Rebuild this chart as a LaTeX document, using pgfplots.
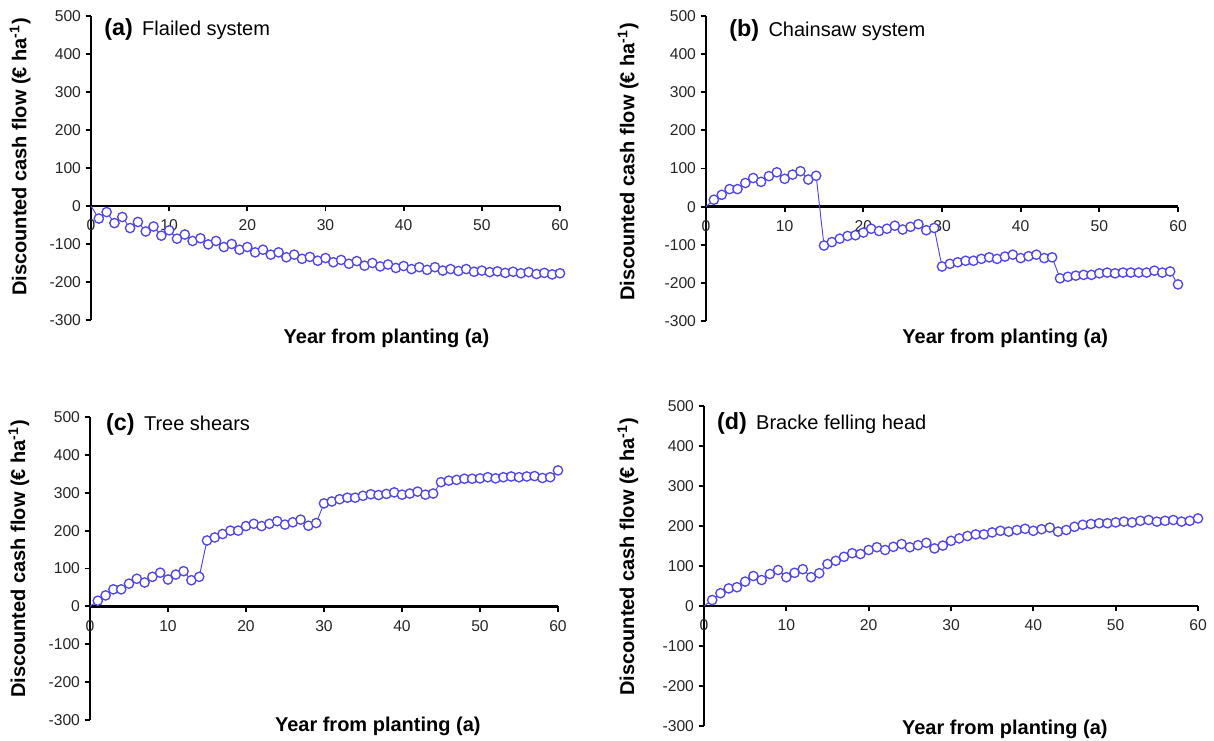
\documentclass[border=0pt]{standalone}
\usepackage{pgfplots}
\pgfplotsset{compat=1.18}
\usepackage{fontspec}
\setmainfont{Liberation Sans}
\definecolor{ser}{RGB}{80,70,230}
\pgfplotsset{
 myax/.style={scale only axis, xmin=0, xmax=60, ymin=-300, ymax=500,
  axis y line=left, axis x line=middle,
  axis line style={-, line width=1.8pt, black},
  xtick={0,10,...,60}, ytick={-300,-200,...,500},
  tick align=outside, major tick length=4pt,
  tick style={line width=1.4pt, black},
  tick label style={font=\fontsize{11.75}{12}\selectfont, text=black!85},
  xticklabel style={yshift=-3pt},
  /pgf/number format/assume math mode=true,
  hide obscured x ticks=false,
  xlabel={\bfseries Year from planting (a)},
  ylabel={\bfseries Discounted cash flow (€ ha\textsuperscript{-1})},
  label style={font=\fontsize{15}{16}\selectfont},
  clip=false},
 ser/.style={color=ser, mark=*, mark size=3.5pt, line width=0.7pt,
  mark options={line width=1.0pt, draw=ser, fill=white}, mark phase=2, mark repeat=1}
}
\newcommand{\ttl}[2]{{\fontsize{17.5}{18}\selectfont\bfseries #1}\hspace{7pt}{\fontsize{15}{16}\selectfont #2}}
\begin{document}
\begin{tikzpicture}
\useasboundingbox (0,0) rectangle (910.5pt,-555pt);
% (a)
\begin{axis}[myax, width=351.75pt, height=228pt, anchor=south west, at={(68.25pt,-240pt)},
  xlabel style={at={(axis description cs:0.63,0)}, anchor=center, yshift=-13.5pt},
  ylabel style={at={(axis description cs:-0.151,0.536)}, anchor=center}]
\addplot[ser] coordinates {(0,0)(1,-33)(2,-16)(3,-45)(4,-29)(5,-58)(6,-42)(7,-67)(8,-54)(9,-78)(10,-64)(11,-86)(12,-75)(13,-92)(14,-85)(15,-101)(16,-92)(17,-108)(18,-100)(19,-115)(20,-108)(21,-122)(22,-115)(23,-128)(24,-122)(25,-135)(26,-128)(27,-139)(28,-134)(29,-144)(30,-137)(31,-148)(32,-142)(33,-152)(34,-145)(35,-157)(36,-150)(37,-159)(38,-154)(39,-163)(40,-158)(41,-166)(42,-161)(43,-168)(44,-161)(45,-170)(46,-166)(47,-171)(48,-166)(49,-173)(50,-170)(51,-174)(52,-172)(53,-176)(54,-173)(55,-177)(56,-174)(57,-179)(58,-176)(59,-180)(60,-177)};
\node[anchor=west, inner sep=0] at (axis description cs:0.028,0.957) {\ttl{(a)}{Flailed system}};
\end{axis}
% (b)
\begin{axis}[myax, width=354pt, height=228.75pt, anchor=south west, at={(529.5pt,-240.75pt)},
  xlabel style={at={(axis description cs:0.634,0)}, anchor=center, yshift=-12.75pt},
  ylabel style={at={(axis description cs:-0.165,0.521)}, anchor=center}]
\addplot[ser] coordinates {(0,0)(1,18)(2,31)(3,46)(4,46)(5,62)(6,75)(7,65)(8,80)(9,90)(10,73)(11,84)(12,93)(13,71)(14,81)(15,-102)(16,-93)(17,-84)(18,-77)(19,-75)(20,-68)(21,-58)(22,-64)(23,-58)(24,-50)(25,-60)(26,-53)(27,-46)(28,-62)(29,-56)(30,-157)(31,-150)(32,-146)(33,-142)(34,-142)(35,-137)(36,-133)(37,-137)(38,-131)(39,-126)(40,-135)(41,-130)(42,-126)(43,-135)(44,-133)(45,-188)(46,-184)(47,-181)(48,-179)(49,-179)(50,-175)(51,-173)(52,-175)(53,-173)(54,-173)(55,-173)(56,-173)(57,-168)(58,-173)(59,-170)(60,-204)};
\node[anchor=west, inner sep=0] at (axis description cs:0.049,0.951) {\ttl{(b)}{Chainsaw system}};
\end{axis}
% (c)
\begin{axis}[myax, width=351pt, height=227.25pt, anchor=south west, at={(67.5pt,-540pt)},
  xlabel style={at={(axis description cs:0.615,0)}, anchor=center, yshift=-4.5pt},
  ylabel style={at={(axis description cs:-0.152,0.531)}, anchor=center}]
\addplot[ser] coordinates {(0,0)(1,15)(2,29)(3,45)(4,45)(5,60)(6,73)(7,63)(8,78)(9,89)(10,71)(11,84)(12,93)(13,69)(14,78)(15,174)(16,182)(17,191)(18,200)(19,200)(20,212)(21,218)(22,212)(23,218)(24,225)(25,216)(26,222)(27,229)(28,213)(29,220)(30,272)(31,277)(32,283)(33,287)(34,287)(35,292)(36,296)(37,294)(38,297)(39,301)(40,295)(41,298)(42,303)(43,295)(44,298)(45,328)(46,332)(47,334)(48,337)(49,337)(50,338)(51,341)(52,338)(53,341)(54,343)(55,341)(56,343)(57,344)(58,339)(59,341)(60,359)};
\node[anchor=west, inner sep=0] at (axis description cs:0.034,0.977) {\ttl{(c)}{Tree shears}};
\end{axis}
% (d)
\begin{axis}[myax, width=370.5pt, height=240pt, anchor=south west, at={(528pt,-544.5pt)},
  xlabel style={at={(axis description cs:0.609,0)}, anchor=center, yshift=-2.25pt},
  ylabel style={at={(axis description cs:-0.154,0.528)}, anchor=center}]
\addplot[ser] coordinates {(0,0)(1,15)(2,32)(3,44)(4,47)(5,61)(6,75)(7,65)(8,80)(9,90)(10,72)(11,83)(12,92)(13,72)(14,82)(15,105)(16,113)(17,123)(18,132)(19,130)(20,140)(21,147)(22,140)(23,148)(24,155)(25,147)(26,152)(27,158)(28,144)(29,151)(30,163)(31,169)(32,175)(33,179)(34,179)(35,184)(36,188)(37,186)(38,190)(39,193)(40,188)(41,192)(42,196)(43,186)(44,190)(45,198)(46,203)(47,205)(48,207)(49,207)(50,209)(51,211)(52,209)(53,213)(54,215)(55,211)(56,213)(57,215)(58,211)(59,213)(60,219)};
\node[anchor=west, inner sep=0] at (axis description cs:0.026,0.947) {\ttl{(d)}{Bracke felling head}};
\end{axis}
\end{tikzpicture}
\end{document}
